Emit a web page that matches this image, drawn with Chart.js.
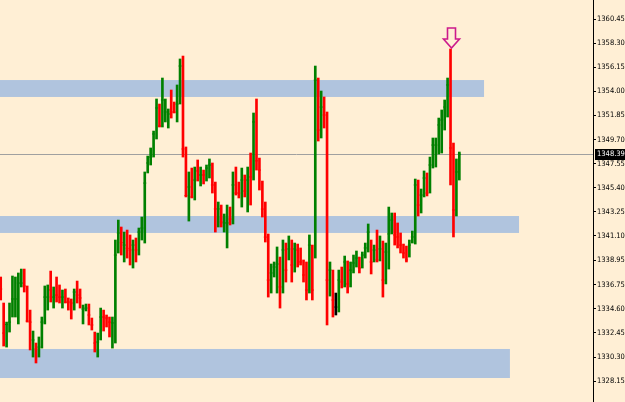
<!DOCTYPE html>
<html>
<head>
<meta charset="utf-8">
<script src="https://cdn.jsdelivr.net/npm/chart.js@4.4.1/dist/chart.umd.min.js"></script>
<style>
    html, body { margin: 0; padding: 0; background: #ffefd5; }
    #wrap { width: 625px; height: 402px; }
</style>
</head>
<body>
<div id="wrap"><canvas id="priceChart" width="625" height="402"></canvas></div>
<script>
const opens = [
    1337.2, 1335.0, 1332.4, 1333.0, 1334.0, 1334.8, 1335.5, 1336.7, 1337.0, 1336.5,
    1334.2, 1331.0, 1331.4, 1330.9, 1331.3, 1333.5, 1335.3, 1336.9, 1335.2, 1336.5,
    1336.2, 1335.0, 1336.0, 1335.5, 1335.4, 1334.9, 1336.3, 1336.0, 1333.6, 1334.5,
    1334.6, 1333.6, 1332.3, 1330.8, 1332.0, 1334.3, 1333.95, 1333.7, 1332.0, 1333.3,
    1339.8, 1341.6, 1339.3, 1341.2, 1340.6, 1339.0, 1340.4, 1339.8, 1341.2, 1341.8,
    1346.9, 1347.6, 1348.3, 1350.2, 1352.5, 1351.0, 1351.5, 1351.2, 1353.6, 1352.8,
    1352.0, 1353.0, 1356.3, 1348.8, 1344.7, 1345.5, 1344.6, 1347.5, 1346.0, 1346.8,
    1346.5, 1346.9, 1347.3, 1345.6, 1342.5, 1343.5, 1341.8, 1340.8, 1343.2, 1342.6,
    1346.5, 1345.6, 1344.9, 1346.0, 1345.1, 1347.5, 1346.5, 1351.3, 1347.8, 1345.6,
    1343.6, 1341.0, 1336.8, 1337.8, 1336.5, 1338.6, 1336.5, 1339.9, 1339.2, 1340.0,
    1338.5, 1340.1, 1339.8, 1338.8, 1337.6, 1336.3, 1340.0, 1339.9, 1355.0, 1350.5,
    1352.6, 1351.9, 1337.0, 1337.9, 1334.76, 1334.8, 1338.1, 1337.0, 1338.7, 1336.8,
    1338.1, 1338.7, 1339.1, 1338.3, 1339.4, 1340.0, 1340.5, 1338.9, 1340.0, 1339.0,
    1340.0, 1337.2, 1339.7, 1341.4, 1342.5, 1341.9, 1341.0, 1340.2, 1339.6, 1339.4,
    1340.6, 1341.0, 1345.7, 1343.8, 1344.8, 1346.3, 1345.0, 1347.4, 1347.8, 1349.2,
    1350.9, 1351.4, 1352.5, 1354.6, 1348.9, 1343.4, 1346.8
];
const highs = [
    1337.44, 1335.12, 1333.42, 1335.12, 1337.53, 1337.44, 1337.80, 1338.15, 1338.15, 1336.64,
    1334.49, 1332.62, 1331.55, 1332.09, 1333.87, 1336.64, 1336.73, 1337.97, 1336.55, 1337.44,
    1336.73, 1336.28, 1336.37, 1335.57, 1335.48, 1336.37, 1337.08, 1336.37, 1334.94, 1335.03,
    1335.03, 1333.78, 1332.53, 1332.44, 1334.67, 1334.49, 1334.05, 1333.87, 1333.87, 1340.74,
    1342.52, 1341.90, 1341.45, 1341.63, 1341.19, 1340.74, 1340.92, 1341.81, 1342.79, 1346.81,
    1348.23, 1348.95, 1350.46, 1353.32, 1352.87, 1355.19, 1353.32, 1352.43, 1354.12, 1353.05,
    1354.57, 1356.89, 1357.15, 1349.04, 1346.81, 1347.16, 1347.25, 1347.88, 1347.25, 1346.98,
    1347.43, 1347.97, 1347.61, 1345.91, 1344.13, 1343.86, 1343.06, 1343.86, 1343.68, 1346.81,
    1347.25, 1345.91, 1347.16, 1346.54, 1347.25, 1348.50, 1352.07, 1353.32, 1348.05, 1346.00,
    1344.13, 1341.28, 1338.60, 1338.78, 1340.12, 1339.22, 1340.74, 1340.47, 1341.10, 1340.74,
    1340.47, 1340.38, 1340.03, 1338.96, 1338.78, 1341.19, 1340.29, 1356.26, 1355.19, 1354.03,
    1353.50, 1352.16, 1338.78, 1338.06, 1336.01, 1338.06, 1338.33, 1339.31, 1338.87, 1338.78,
    1339.40, 1339.76, 1339.22, 1339.67, 1340.47, 1342.17, 1340.74, 1340.29, 1341.63, 1341.10,
    1340.65, 1340.47, 1343.68, 1343.15, 1343.15, 1342.26, 1341.37, 1340.38, 1340.20, 1340.74,
    1341.54, 1346.18, 1346.09, 1345.29, 1346.90, 1346.72, 1348.14, 1349.84, 1349.84, 1351.62,
    1352.34, 1353.23, 1355.19, 1357.78, 1349.39, 1347.97, 1348.59
];
const lows = [
    1335.39, 1331.28, 1331.19, 1332.53, 1333.87, 1333.87, 1333.25, 1336.55, 1336.10, 1333.42,
    1330.93, 1330.30, 1329.77, 1330.30, 1331.10, 1333.25, 1334.49, 1335.21, 1334.67, 1335.21,
    1335.12, 1334.67, 1335.12, 1334.49, 1333.69, 1334.49, 1335.12, 1334.67, 1333.25, 1334.41,
    1333.16, 1332.71, 1330.75, 1330.30, 1331.82, 1332.62, 1332.98, 1332.09, 1331.10, 1331.55,
    1339.58, 1339.40, 1338.78, 1339.13, 1338.51, 1338.24, 1338.78, 1339.40, 1340.74, 1340.47,
    1346.72, 1347.43, 1348.14, 1349.75, 1350.82, 1350.82, 1351.27, 1350.73, 1351.62, 1352.07,
    1351.27, 1352.87, 1348.14, 1344.58, 1342.43, 1344.49, 1344.31, 1346.00, 1345.56, 1345.74,
    1346.00, 1346.27, 1344.93, 1341.45, 1341.90, 1341.90, 1341.45, 1340.03, 1342.08, 1342.17,
    1344.75, 1344.49, 1343.68, 1344.58, 1343.24, 1343.86, 1346.09, 1346.98, 1345.20, 1342.79,
    1340.56, 1335.65, 1336.01, 1337.44, 1336.01, 1334.67, 1336.01, 1336.99, 1338.96, 1336.99,
    1337.88, 1338.33, 1338.51, 1336.99, 1335.39, 1336.01, 1335.39, 1339.13, 1349.57, 1349.84,
    1350.73, 1333.16, 1335.74, 1333.87, 1334.05, 1334.32, 1336.46, 1336.55, 1336.01, 1336.55,
    1337.80, 1338.33, 1337.80, 1338.24, 1339.13, 1339.67, 1337.71, 1338.78, 1338.78, 1338.87,
    1335.65, 1336.82, 1338.15, 1341.28, 1340.29, 1340.03, 1339.58, 1339.13, 1338.78, 1339.22,
    1340.47, 1340.38, 1342.88, 1343.15, 1344.58, 1344.67, 1344.93, 1347.16, 1347.25, 1348.41,
    1348.50, 1350.55, 1351.71, 1345.65, 1341.01, 1342.88, 1346.09
];
const closes = [
    1336.37, 1332.44, 1333.20, 1333.42, 1335.48, 1335.48, 1336.90, 1336.90, 1336.64, 1333.51,
    1333.42, 1331.82, 1331.02, 1331.19, 1333.42, 1335.65, 1335.65, 1336.28, 1335.65, 1335.83,
    1335.65, 1335.65, 1335.20, 1335.21, 1335.12, 1336.10, 1335.83, 1335.57, 1334.58, 1334.67,
    1334.05, 1333.16, 1331.55, 1331.64, 1333.87, 1333.87, 1333.78, 1333.42, 1333.34, 1339.40,
    1341.36, 1340.50, 1340.29, 1340.00, 1339.85, 1340.29, 1339.85, 1341.45, 1341.81, 1345.82,
    1347.61, 1348.14, 1350.20, 1352.52, 1350.91, 1353.23, 1352.16, 1351.98, 1352.16, 1352.15,
    1352.87, 1356.26, 1348.86, 1344.70, 1345.47, 1344.58, 1346.09, 1346.90, 1346.54, 1346.54,
    1347.16, 1347.43, 1345.65, 1343.51, 1343.51, 1342.35, 1342.26, 1342.26, 1342.61, 1345.65,
    1344.93, 1344.93, 1346.09, 1345.11, 1346.09, 1346.36, 1351.27, 1347.80, 1346.98, 1343.50,
    1341.00, 1337.17, 1337.80, 1338.33, 1338.60, 1336.55, 1339.85, 1338.06, 1339.94, 1338.51,
    1339.94, 1339.85, 1338.78, 1337.62, 1336.28, 1340.29, 1336.28, 1355.01, 1350.55, 1352.60,
    1351.89, 1337.17, 1338.06, 1335.39, 1334.76, 1337.17, 1337.00, 1338.78, 1336.82, 1338.06,
    1338.69, 1339.13, 1338.24, 1339.40, 1340.03, 1341.45, 1338.78, 1339.85, 1338.96, 1339.94,
    1337.17, 1339.67, 1341.28, 1342.52, 1341.19, 1341.01, 1340.29, 1339.58, 1338.96, 1340.29,
    1341.01, 1345.65, 1343.86, 1344.75, 1346.27, 1344.93, 1347.43, 1349.21, 1349.21, 1351.00,
    1351.44, 1352.60, 1354.57, 1348.95, 1343.42, 1346.81, 1348.39
];

const priceTicks = [1360.45, 1358.30, 1356.15, 1354.00, 1351.85, 1349.70, 1347.55, 1345.40,
    1343.25, 1341.10, 1338.95, 1336.75, 1334.60, 1332.45, 1330.30, 1328.15];
const currentPrice = 1348.39;

// support / resistance zones (price range and the bar index where the box ends)
const zoneTops = [1355.01, 1342.88, 1331.02];
const zoneBottoms = [1353.50, 1341.37, 1328.43];
const zoneEnds = [164.4, 176.3, 173.2];

// bar that got the down arrow
const signalBar = 153;

const bg = '#ffefd5';
const axisFont = "'Liberation Sans Narrow', 'DejaVu Sans Condensed', 'Liberation Sans', sans-serif";
const barColor = (i) => closes[i] > opens[i] ? '#008000' : (closes[i] < opens[i] ? '#ff0000' : '#000000');
const colors = closes.map((c, i) => barColor(i));

const backgroundPlugin = {
    id: 'bg',
    beforeDraw(chart) {
        const ctx = chart.ctx;
        ctx.save();
        ctx.fillStyle = bg;
        ctx.fillRect(0, 0, chart.width, chart.height);
        ctx.restore();
    }
};

const zonesPlugin = {
    id: 'zones',
    beforeDatasetsDraw(chart) {
        const ctx = chart.ctx;
        const area = chart.chartArea;
        const x = chart.scales.x;
        const y = chart.scales.y;
        ctx.save();
        ctx.fillStyle = '#b0c4de';
        zoneTops.forEach((top, i) => {
            const y1 = y.getPixelForValue(top);
            const y2 = y.getPixelForValue(zoneBottoms[i]);
            const x2 = x.getPixelForValue(zoneEnds[i]);
            ctx.fillRect(area.left, y1, x2 - area.left, y2 - y1);
        });
        // bid line
        const py = Math.round(y.getPixelForValue(currentPrice)) + 0.5;
        ctx.strokeStyle = '#a0a0a0';
        ctx.lineWidth = 1;
        ctx.beginPath();
        ctx.moveTo(area.left, py);
        ctx.lineTo(area.right, py);
        ctx.stroke();
        ctx.restore();
    }
};

const markersPlugin = {
    id: 'markers',
    afterDraw(chart) {
        const ctx = chart.ctx;
        const area = chart.chartArea;
        const x = chart.scales.x;
        const y = chart.scales.y;
        ctx.save();

        // price label on the axis
        const py = Math.round(y.getPixelForValue(currentPrice));
        ctx.fillStyle = '#000000';
        ctx.fillRect(area.right + 2, py - 5, 30, 11);
        ctx.fillStyle = '#ffffff';
        ctx.font = '7.5px ' + axisFont;
        ctx.textBaseline = 'middle';
        ctx.fillText(currentPrice.toFixed(2), area.right + 4, py + 0.5);

        // down arrow over the signal bar
        const xc = Math.round(x.getPixelForValue(signalBar)) + 0.5;
        const tip = y.getPixelForValue(highs[signalBar]) - 1;
        ctx.beginPath();
        ctx.moveTo(xc - 4, tip - 20);
        ctx.lineTo(xc + 4, tip - 20);
        ctx.lineTo(xc + 4, tip - 9);
        ctx.lineTo(xc + 8, tip - 9);
        ctx.lineTo(xc, tip);
        ctx.lineTo(xc - 8, tip - 9);
        ctx.lineTo(xc - 4, tip - 9);
        ctx.closePath();
        ctx.fillStyle = bg;
        ctx.fill();
        ctx.strokeStyle = '#cc1a8c';
        ctx.lineWidth = 1.6;
        ctx.stroke();
        ctx.restore();
    }
};

new Chart(document.getElementById('priceChart'), {
    type: 'bar',
    data: {
        datasets: [{
            label: 'Range',
            data: highs.map((h, i) => ({ x: i, y: [lows[i], h] })),
            backgroundColor: colors,
            borderWidth: 0,
            barThickness: 2,
            grouped: false,
            order: 2
        }, {
            type: 'scatter',
            label: 'Close',
            data: closes.map((c, i) => ({ x: i, y: c })),
            pointStyle: 'line',
            pointRadius: 1.5,
            pointBorderWidth: 1,
            pointBorderColor: colors,
            showLine: false,
            order: 1
        }]
    },
    options: {
        responsive: false,
        animation: false,
        events: [],
        devicePixelRatio: 1,
        layout: { padding: 0, autoPadding: false },
        plugins: {
            legend: { display: false },
            tooltip: { enabled: false }
        },
        scales: {
            x: {
                type: 'linear',
                offset: false,
                min: -0.24,
                max: 201.46,
                display: false
            },
            y: {
                position: 'right',
                min: 1326.29,
                max: 1362.15,
                afterBuildTicks: (scale) => {
                    scale.ticks = priceTicks.map(v => ({ value: v }));
                },
                afterFit: (scale) => {
                    scale.width = 32;
                    scale.paddingTop = 0;
                    scale.paddingBottom = 0;
                },
                grid: {
                    drawOnChartArea: false,
                    drawTicks: true,
                    tickLength: 3,
                    color: '#000000'
                },
                border: { display: true, color: '#000000', width: 1 },
                ticks: {
                    autoSkip: false,
                    padding: 1,
                    color: '#000000',
                    font: { size: 7.5, family: axisFont },
                    callback: (v) => Number(v).toFixed(2)
                }
            }
        }
    },
    plugins: [backgroundPlugin, zonesPlugin, markersPlugin]
});
</script>
</body>
</html>
